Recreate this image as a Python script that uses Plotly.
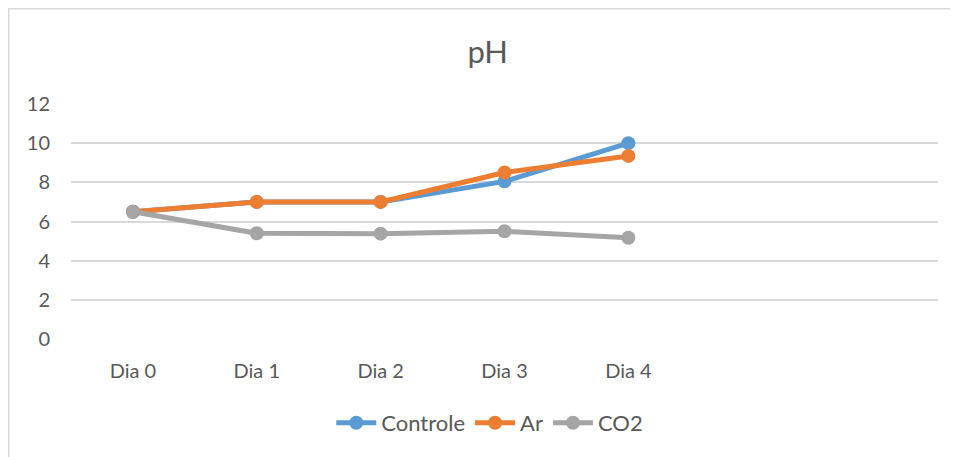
import plotly.graph_objects as go

days = ['Dia 0', 'Dia 1', 'Dia 2', 'Dia 3', 'Dia 4']
empty_slots = [' ', '  ']
controle = [6.5, 7.0, 7.0, 8.05, 10.0]
ar = [6.5, 7.0, 7.0, 8.5, 9.35]
co2 = [6.5, 5.4, 5.38, 5.5, 5.17]

series = [('Controle', controle, '#5b9bd5'),
          ('Ar', ar, '#ed7d31'),
          ('CO2', co2, '#a5a5a5')]

font_name = 'Lato'
grey_text = '#595959'

# the page body has an 8px margin, so the figure is 8px smaller than the window
W, H = 950, 449
L, R, T, B = 63, 20, 96, 118
pw, ph = W - L - R, H - T - B

fig = go.Figure()
for name, vals, colr in series:
    fig.add_trace(go.Scatter(x=days, y=vals, name=name, mode='lines+markers',
                             line=dict(color=colr, width=5),
                             marker=dict(color=colr, size=14)))

fig.update_layout(
    width=W, height=H,
    margin=dict(l=L, r=R, t=T, b=B),
    paper_bgcolor='white', plot_bgcolor='white',
    font=dict(family=font_name, color=grey_text, size=20),
    title=dict(text='pH', x=0.505, xanchor='center', y=0.902, yanchor='middle',
               font=dict(size=31, color=grey_text)),
    showlegend=True,
    legend=dict(orientation='h', x=0.483, xanchor='center', y=-0.357,
                yanchor='middle', font=dict(size=22), itemwidth=40,
                traceorder='normal'),
    xaxis=dict(type='category', categoryorder='array',
               categoryarray=days + empty_slots, range=[-0.5, 6.5],
               showgrid=False, showline=False, zeroline=False,
               ticks='outside', ticklen=14, tickcolor='rgba(0,0,0,0)'),
    yaxis=dict(range=[0, 12], dtick=2, showgrid=True, gridcolor='#d9d9d9',
               gridwidth=1.5, zeroline=False, showline=False,
               ticks='', ticklabelstandoff=20),
)

# outer chart border (Excel chart area), right and bottom run off the page
fig.add_shape(type='rect', xref='paper', yref='paper',
              x0=(0.75 - L) / pw, x1=(W + 20 - L) / pw,
              y0=-(B + 20) / ph, y1=1 + (T - 0.75) / ph,
              line=dict(color='#d9d9d9', width=1.5), layer='below')

fig.write_html("out.html")
